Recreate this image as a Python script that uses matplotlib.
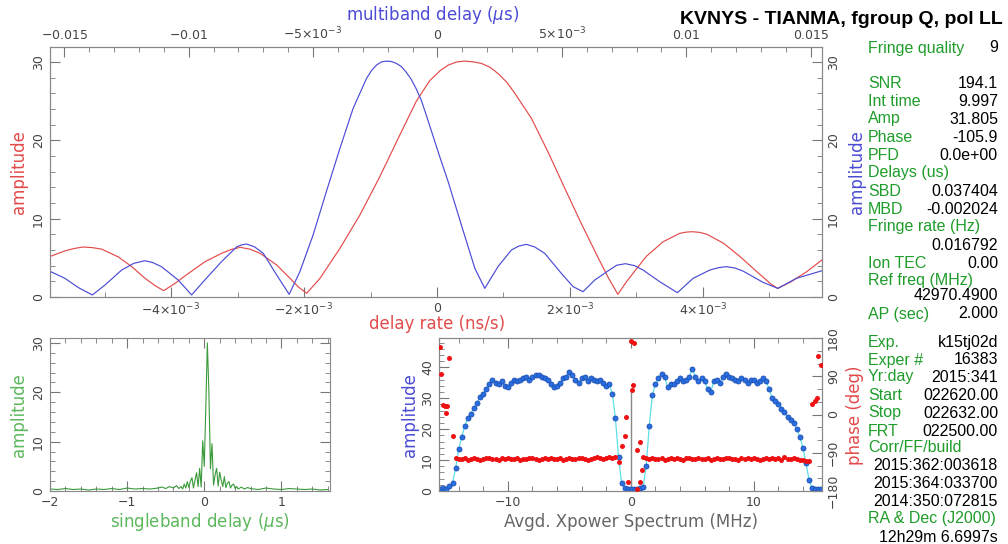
import numpy as np
import matplotlib.pyplot as plt
from matplotlib.ticker import MultipleLocator

# ---- top panel: delay rate (red, 1e-3 ns/s) and multiband delay (blue, 1e-3 us)
rate = [-5.83, -5.59, -5.45, -5.32, -5.18, -5.04, -4.79, -4.59, -4.39, -4.24,
        -4.11, -3.94, -3.74, -3.49, -3.24, -3.1, -2.96, -2.81, -2.66, -2.41,
        -2.21, -2.09, -1.96, -1.76, -1.46, -1.16, -0.86, -0.56, -0.31, -0.11,
        0.05, 0.17, 0.30, 0.42, 0.55, 0.67, 0.80, 0.92, 1.05, 1.17,
        1.42, 1.67, 1.92, 2.18, 2.43, 2.58, 2.72, 2.85, 3.0, 3.15,
        3.40, 3.65, 3.74, 3.83, 3.95, 4.06, 4.31, 4.56, 4.81, 5.01,
        5.12, 5.31, 5.56, 5.8]
rate_amp = [5.14, 5.9, 6.2, 6.38, 6.3, 6.1, 5.1, 3.87, 2.38, 1.45,
            0.81, 1.74, 3.0, 4.5, 5.57, 6.05, 6.34, 6.1, 5.57, 4.08,
            2.38, 1.32, 0.47, 2.38, 6.2, 10.46, 15.35, 20.66, 25.0, 27.6,
            28.9, 29.6, 30.0, 30.1, 30.0, 29.8, 29.3, 28.5, 27.4, 26.0,
            22.8, 18.5, 13.9, 9.2, 4.9, 2.4, 0.34, 1.95, 3.6, 5.2,
            7.05, 8.12, 8.27, 8.33, 8.25, 8.0, 6.85, 5.14, 3.23, 1.74,
            1.1, 1.87, 3.23, 4.8]

mbd = [-15.6, -14.97, -14.43, -13.87, -13.36, -12.69, -12.2, -11.76, -11.45, -11.09,
       -10.42, -9.88, -9.35, -8.68, -8.07, -7.87, -7.67, -7.35, -7.0, -6.46,
       -5.96, -5.53, -5.0, -4.47, -3.92, -3.39, -2.85, -2.65, -2.45, -2.25,
       -2.05, -1.85, -1.65, -1.45, -1.26, -1.06, -0.86, -0.65, -0.45, 0.09,
       0.43, 0.96, 1.50, 1.90, 2.43, 2.97, 3.27, 3.57, 3.9, 4.31,
       4.98, 5.45, 5.85, 6.32, 6.85, 7.2, 7.55, 7.92, 8.26, 8.93,
       9.64, 10.27, 10.94, 11.3, 11.61, 11.95, 12.27, 13.08, 13.68, 14.42,
       15.5]
mbd_amp = [3.32, 2.38, 1.2, 0.26, 1.53, 3.44, 4.3, 4.63, 4.4, 3.87,
           2.17, 0.26, 2.17, 4.5, 6.4, 6.65, 6.76, 6.4, 5.57, 2.8,
           0.34, 3.23, 7.9, 13.4, 18.97, 24.07, 27.9, 28.9, 29.6, 30.0,
           30.1, 30.05, 29.8, 29.4, 28.7, 27.8, 26.6, 25.1, 23.2, 17.9,
           14.7, 9.18, 3.66, 1.1, 3.87, 6.0, 6.5, 6.72, 6.4, 5.57,
           3.0, 1.32, 0.68, 2.17, 3.32, 4.05, 4.25, 4.0, 3.44, 1.95,
           0.55, 2.38, 3.44, 3.75, 3.87, 3.7, 3.32, 1.87, 1.1, 2.38,
           3.4]

rate_ticks = [-4, -2, 0, 2, 4]
rate_labels = [r'$-4{\times}10^{-3}$', r'$-2{\times}10^{-3}$', '0',
               r'$2{\times}10^{-3}$', r'$4{\times}10^{-3}$']
mbd_ticks = [-15, -10, -5, 0, 5, 10, 15]
mbd_labels = [r'$-0.015$', r'$-0.01$', r'$-5{\times}10^{-3}$', '0',
              r'$5{\times}10^{-3}$', '0.01', '0.015']

# ---- bottom left: singleband delay (us)
sbd = [-2.0, -1.9, -1.8, -1.7, -1.6, -1.5, -1.4, -1.3, -1.2, -1.1,
       -1.0, -0.9, -0.8, -0.7, -0.6, -0.55, -0.5, -0.45, -0.4, -0.36,
       -0.33, -0.30, -0.28, -0.26, -0.24, -0.22, -0.20, -0.18, -0.16, -0.14,
       -0.12, -0.10, -0.08, -0.06, -0.04, -0.02, 0.00, 0.02, 0.04, 0.06,
       0.08, 0.10, 0.12, 0.14, 0.16, 0.18, 0.20, 0.22, 0.24, 0.26,
       0.28, 0.30, 0.32, 0.34, 0.36, 0.38, 0.40, 0.42, 0.44, 0.48,
       0.52, 0.56, 0.6, 0.7, 0.8, 0.9, 1.0, 1.1, 1.2, 1.3,
       1.4, 1.5, 1.6]
sbd_amp = [0.4, 0.3, 0.5, 0.3, 0.4, 0.2, 0.4, 0.3, 0.5, 0.3,
           0.6, 0.4, 0.5, 0.4, 0.6, 0.8, 0.5, 0.9, 0.6, 1.1,
           0.5, 0.9, 0.4, 1.4, 0.6, 1.9, 0.7, 2.0, 2.7, 0.6,
           2.2, 3.7, 0.9, 4.6, 0.8, 10.2, 5.0, 17.0, 30.0, 20.0,
           4.5, 9.6, 1.2, 3.2, 4.6, 1.0, 3.8, 2.2, 0.9, 2.9,
           0.7, 1.6, 1.9, 0.6, 1.2, 1.4, 0.5, 0.9, 0.4, 0.8,
           0.4, 0.7, 0.5, 0.3, 0.6, 0.4, 0.3, 0.5, 0.4, 0.3,
           0.4, 0.2, 0.3]

# ---- bottom right: averaged cross-power spectrum, channels every 0.25 MHz
freq = np.arange(-15.5, 15.51, 0.25)
xp_amp = [0.5, 0.9, 0.6, 1.5, 2.5, 7.4, 13.5, 17.5, 21.0, 23.5,
          25.0, 27.0, 28.5, 30.5, 31.5, 33.0, 34.5, 36.0, 35.0, 34.5,
          35.5, 34.0, 33.5, 35.0, 36.0, 35.5, 36.0, 36.5, 37.0, 36.0,
          37.0, 37.5, 37.5, 37.0, 36.5, 36.0, 34.5, 33.5, 34.0, 35.0,
          36.5, 37.0, 38.5, 37.5, 36.0, 35.0, 36.5, 37.0, 35.5, 36.5,
          36.0, 35.5, 36.0, 35.0, 34.0, 34.5, 31.5, 23.5, 11.0, 2.5,
          1.0, 0.8,
          0.7,
          0.6, 0.8, 1.0, 1.2, 8.0, 21.0, 31.0, 34.5, 36.5, 38.0,
          37.0, 33.5, 34.5, 34.5, 35.5, 36.5, 35.5, 36.0, 37.0, 39.5,
          37.0, 35.5, 36.5, 35.5, 33.0, 32.0, 35.5, 36.0, 35.0, 37.0,
          38.0, 37.0, 36.5, 36.0, 35.5, 36.5, 36.0, 35.0, 36.0, 36.0,
          35.0, 35.5, 36.5, 35.5, 33.0, 30.0, 29.0, 28.0, 26.5, 25.5,
          24.0, 23.0, 22.0, 20.0, 17.5, 14.0, 9.0, 3.5, 1.0, 0.8,
          0.5, 0.5]
xp_phase = [160, 23, 3, 133, -50,
            -103, -105, -104, -102, -106, -104, -103, -105, -107, -104,
            -102, -103, -105, -104, -106, -103, -104, -102, -105, -104,
            -103, -106, -104, -105, -103, -102, -104, -106, -105, -103,
            -104, -102, -104, -105, -103, -106, -104, -103, -105, -104,
            -102, -103, -105, -107, -104, -103, -101, -103, -105, -102,
            -100, -103,
            -99, -111, -75, -50, -158, 172, 168, -176, -64,
            -101, -103, -104, -102, -105, -104, -103, -106, -104, -102,
            -105, -103, -104, -106, -103, -102, -105, -104, -103, -105,
            -104, -102, -106, -104, -103, -105, -104, -102, -103, -105,
            -104, -106, -103, -104, -102, -105, -103, -104, -106, -104,
            -103, -105, -102, -104, -103, -106, -101, -104, -105, -103,
            -104, -107, -108, -109, -110,
            25, 31, 137, 117]
extra_f = [-15.4, -15.15, -14.93, -0.41, 0.11, 0.19, 0.54, 0.73, 0.87, 15.12]
extra_phase = [95, 20, 19, -5, 58, 70, -83, -158, -130, 38]
dc_amp = 32.5

# ---- text column
info = [("Fringe quality", "9", 48),
        ("SNR", "194.1", 83), ("Int time", "9.997", 101), ("Amp", "31.805", 119),
        ("Phase", "-105.9", 137), ("PFD", "0.0e+00", 155), ("Delays (us)", "", 173),
        ("SBD", "0.037404", 191), ("MBD", "-0.002024", 209),
        ("Fringe rate (Hz)", "", 227), ("", "0.016792", 245),
        ("Ion TEC", "0.00", 263), ("Ref freq (MHz)", "", 281), ("", "42970.4900", 296),
        ("AP (sec)", "2.000", 314),
        ("Exp.", "k15tj02d", 342), ("Exper #", "16383", 360), ("Yr:day", "2015:341", 377),
        ("Start", "022620.00", 395), ("Stop", "022632.00", 413), ("FRT", "022500.00", 431),
        ("Corr/FF/build", "", 448), ("", "2015:362:003618", 466),
        ("", "2015:364:033700", 484), ("", "2014:350:072815", 502),
        ("RA & Dec (J2000)", "", 519), ("", "12h29m 6.6997s", 537)]

RED = '#e34a4a'
BLUE = '#4b4bd6'
GREEN_TXT = '#1f9d2b'
W, H = 1008, 544


def box(x0, y0, x1, y1):
    return [x0 / W, 1 - y1 / H, (x1 - x0) / W, (y1 - y0) / H]


def style(ax):
    ax.tick_params(which='both', direction='in', colors='#777777',
                   labelcolor='#444444', labelsize=9)
    ax.tick_params(which='major', length=7)
    ax.tick_params(which='minor', length=3.5)
    for s in ax.spines.values():
        s.set_color('#888888')


def ftext(x, y, s, **kw):
    fig.text(x / W, 1 - y / H, s, **kw)


fig = plt.figure(figsize=(W / 100, H / 100), dpi=100)

# top panel
ax = fig.add_axes(box(50, 47, 822, 297))
ax.plot(np.array(rate), rate_amp, color=RED, lw=0.85)
ax.set_xlim(-5.82, 5.79)
ax.set_ylim(0, 31.9)
ax.set_xticks(rate_ticks, rate_labels)
ax.xaxis.set_minor_locator(MultipleLocator(1))
ax.yaxis.set_major_locator(MultipleLocator(10))
ax.yaxis.set_minor_locator(MultipleLocator(2))
style(ax)
ax.tick_params(axis='y', which='both', left=True, right=True, labelleft=True, labelright=True)
ax.tick_params(axis='y', labelrotation=90)
ax.tick_params(axis='x', which='both', top=False)
ax2 = ax.twiny()
ax2.plot(np.array(mbd), mbd_amp, color=BLUE, lw=0.85)
ax2.set_xlim(-15.57, 15.45)
ax2.set_xticks(mbd_ticks, mbd_labels)
ax2.xaxis.set_minor_locator(MultipleLocator(1))
style(ax2)
for t in ax.get_yticklabels():
    t.set_va('center')
ftext(19, 172, 'amplitude', color=RED, fontsize=12, rotation=90, ha='center', va='center')
ftext(857, 172, 'amplitude', color=BLUE, fontsize=12, rotation=90, ha='center', va='center')
ftext(437, 324, 'delay rate (ns/s)', color=RED, fontsize=12, ha='center', va='center')
ftext(433, 15, r'multiband delay ($\mu$s)', color=BLUE, fontsize=12, ha='center', va='center')

# bottom left panel
bl = fig.add_axes(box(50, 338, 330, 491))
bl.plot(sbd, sbd_amp, color='#3a9a3a', lw=0.8)
bl.set_xlim(-2, 1.63)
bl.set_ylim(0, 31)
bl.xaxis.set_major_locator(MultipleLocator(1))
bl.xaxis.set_minor_locator(MultipleLocator(0.2))
bl.yaxis.set_major_locator(MultipleLocator(10))
bl.yaxis.set_minor_locator(MultipleLocator(2))
style(bl)
bl.tick_params(which='both', top=True, right=True)
bl.tick_params(axis='y', labelrotation=90)
for t in bl.get_yticklabels():
    t.set_va('center')
ftext(19, 415, 'amplitude', color='#5cb85c', fontsize=12, rotation=90, ha='center', va='center')
ftext(200, 522, r'singleband delay ($\mu$s)', color='#5cb85c', fontsize=12, ha='center', va='center')

# bottom right panel
br = fig.add_axes(box(439, 338, 822, 491))
br.plot([0, 0], [0, dc_amp], color='#888888', lw=1)
br.plot(freq, xp_amp, color='#5ee0e8', lw=0.9, zorder=2)
br.plot(freq, xp_amp, 'o', ms=3.6, mfc='#2a6fe0', mec='#1d4fb5', mew=0.6, zorder=3)
br.set_xlim(-15.6, 15.55)
br.set_ylim(0, 49.5)
br.xaxis.set_major_locator(MultipleLocator(10))
br.xaxis.set_minor_locator(MultipleLocator(2))
br.yaxis.set_major_locator(MultipleLocator(10))
br.yaxis.set_minor_locator(MultipleLocator(2))
style(br)
br.tick_params(axis='x', which='both', top=True)
br.tick_params(axis='y', which='both', right=False, labelrotation=90)
for t in br.get_yticklabels():
    t.set_va('center')
bp = br.twinx()
bp.plot(freq, xp_phase, 'o', ms=3.6, color='#ee1111', mew=0, zorder=4)
bp.plot(extra_f, extra_phase, 'o', ms=3.6, color='#ee1111', mew=0, zorder=4)
bp.set_ylim(-180, 180)
bp.set_yticks([-180, -90, 0, 90, 180])
bp.yaxis.set_minor_locator(MultipleLocator(30))
style(bp)
bp.tick_params(axis='y', labelrotation=90)
for t in bp.get_yticklabels():
    t.set_va('center')
ftext(410, 415, 'amplitude', color=BLUE, fontsize=12, rotation=90, ha='center', va='center')
ftext(855, 415, 'phase (deg)', color=RED, fontsize=12, rotation=90, ha='center', va='center')
ftext(631, 522, 'Avgd. Xpower Spectrum (MHz)', color='#666666', fontsize=12, ha='center', va='center')

# header and fringe info column
ftext(1003, 20, 'KVNYS - TIANMA, fgroup Q, pol LL', fontsize=14, fontweight='bold',
      family='Liberation Sans', ha='right', va='center')
for label, value, y in info:
    if label:
        ftext(868, y, label, color=GREEN_TXT, fontsize=11.5, family='Liberation Sans', va='center')
    if value:
        ftext(998, y, value, color='black', fontsize=11.5, family='Liberation Sans',
              ha='right', va='center')

fig.savefig('out.png', dpi=100)
